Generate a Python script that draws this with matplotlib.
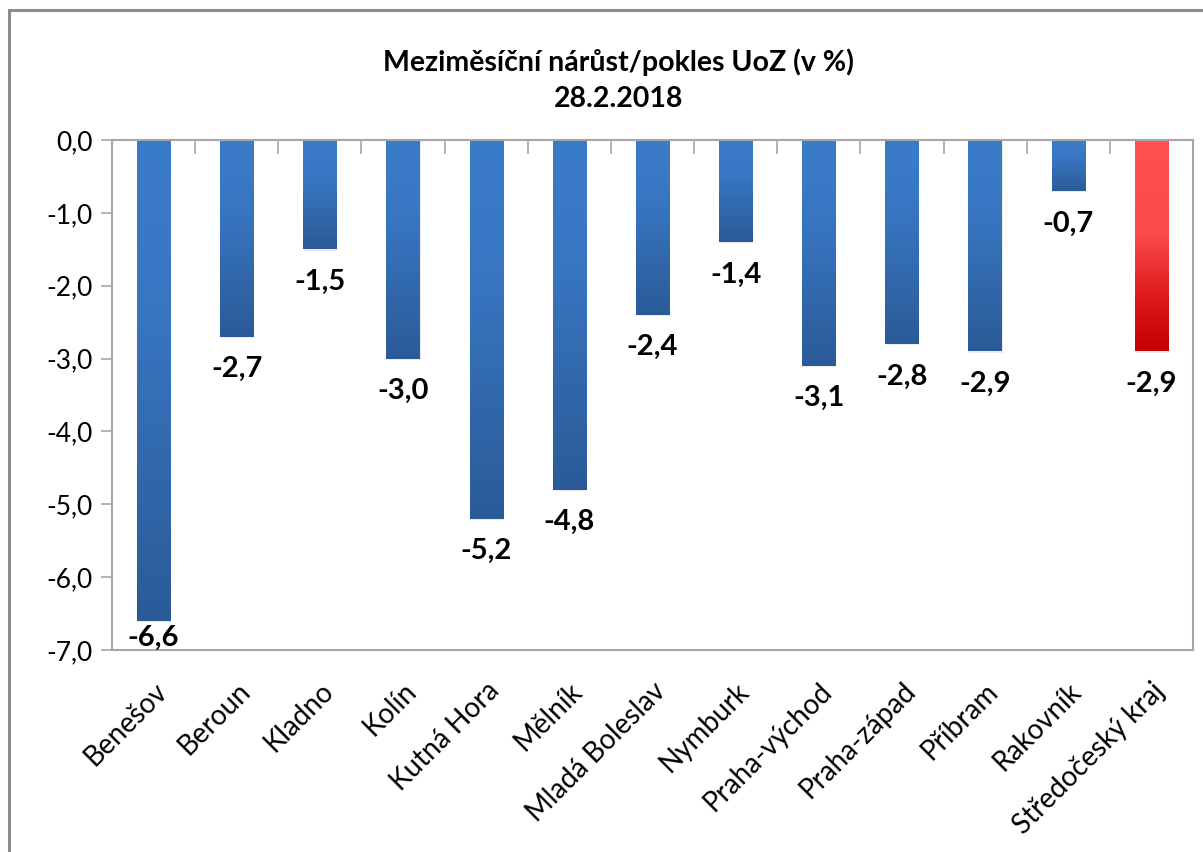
import matplotlib
matplotlib.use("Agg")
import matplotlib.pyplot as plt
from matplotlib.colors import LinearSegmentedColormap
from matplotlib.patches import Rectangle
from matplotlib.ticker import FixedLocator
import numpy as np

# ---------------------
# Data
# ---------------------
okresy = ["Benešov", "Beroun", "Kladno", "Kolín", "Kutná Hora", "Mělník",
          "Mladá Boleslav", "Nymburk", "Praha-východ", "Praha-západ",
          "Příbram", "Rakovník", "Středočeský kraj"]
zmena = [-6.6, -2.7, -1.5, -3.0, -5.2, -4.8, -2.4, -1.4, -3.1, -2.8, -2.9, -0.7, -2.9]
kraj_index = 12

title_line1 = "Meziměsíční nárůst/pokles UoZ (v %)"
title_line2 = "28.2.2018"

# ---------------------
# Styl
# ---------------------
plt.rcParams["font.family"] = ["Lato", "DejaVu Sans"]
grey = "#a6a6a6"

cmap_blue = LinearSegmentedColormap.from_list(
    "modra", [(0.0, "#3b7cca"), (0.35, "#3876c2"), (1.0, "#2b5b97")])
cmap_red = LinearSegmentedColormap.from_list(
    "cervena", [(0.0, "#ff5252"), (0.45, "#fb4a4a"), (0.75, "#dc1a1a"), (1.0, "#c50000")])
grad = np.linspace(0, 1, 256).reshape(-1, 1)

fig = plt.figure(figsize=(12.03, 8.52), dpi=100)
ax = fig.add_axes([112/1203, 1-650/852, (1193-112)/1203, (650-140)/852])

x = np.arange(len(okresy))
bars = ax.bar(x, zmena, width=0.4, color="none", zorder=2)

ymin = -7
for i, b in enumerate(bars):
    x0 = b.get_x()
    x1 = x0 + b.get_width()
    y_top = b.get_y()
    y_bot = b.get_y() + b.get_height()
    cm = cmap_red if i == kraj_index else cmap_blue
    # jemny stin
    ax.add_patch(Rectangle((x0 + 0.01, y_bot - 0.02), b.get_width(), -b.get_height(),
                           color="#000000", alpha=0.08, lw=0, zorder=1))
    ax.imshow(grad, extent=[x0, x1, y_bot, y_top], aspect="auto", cmap=cm,
              origin="upper", zorder=2, interpolation="bilinear")
    txt = f"{zmena[i]:.1f}".replace(".", ",")
    if y_bot - ymin < 0.6:
        # popisek by vypadl z grafu -> dovnitr nad spodni okraj
        ax.annotate(txt, (x[i], ymin), xytext=(0, 3), textcoords="offset points",
                    ha="center", va="baseline", fontsize=21, fontweight="bold")
    else:
        ax.annotate(txt, (x[i], y_bot), xytext=(0, -14), textcoords="offset points",
                    ha="center", va="top", fontsize=21, fontweight="bold")

ax.set_xlim(-0.5, len(okresy) - 0.5)
ax.set_ylim(ymin, 0)

# osa y
yt = np.arange(-7, 1, 1)
ax.set_yticks(yt)
ax.set_yticklabels([f"{v:.1f}".replace(".", ",") for v in yt], fontsize=19)
ax.tick_params(axis="y", direction="out", length=8, color=grey, width=1.2, pad=6)

# osa x: popisky dole, carky nahore na hranicich kategorii
ax.set_xticks(x)
ax.set_xticklabels(okresy, rotation=45, ha="right", va="top",
                   rotation_mode="anchor", fontsize=20)
ax.tick_params(axis="x", which="major", length=0, pad=20)
ax.xaxis.set_minor_locator(FixedLocator(np.arange(0.5, len(okresy) - 1, 1.0)))
ax.tick_params(axis="x", which="minor", top=True, bottom=False, direction="in",
               length=10, color=grey, width=1.2)

for s in ax.spines.values():
    s.set_color(grey)
    s.set_linewidth(1.5)

# titulek
fig.text(0.514, 1-62/852, title_line1, ha="center", va="center",
         fontsize=20.5, fontweight="bold")
fig.text(0.514, 1-99/852, title_line2, ha="center", va="center",
         fontsize=20.5, fontweight="bold")

# ramecek grafu
fig.patches.append(Rectangle((9/1203, -0.1), 1.2, 1-10/852 + 0.1,
                             transform=fig.transFigure, fill=False,
                             edgecolor="#8c8c8c", lw=2.2, zorder=0))

fig.savefig("out.png", dpi=100)
